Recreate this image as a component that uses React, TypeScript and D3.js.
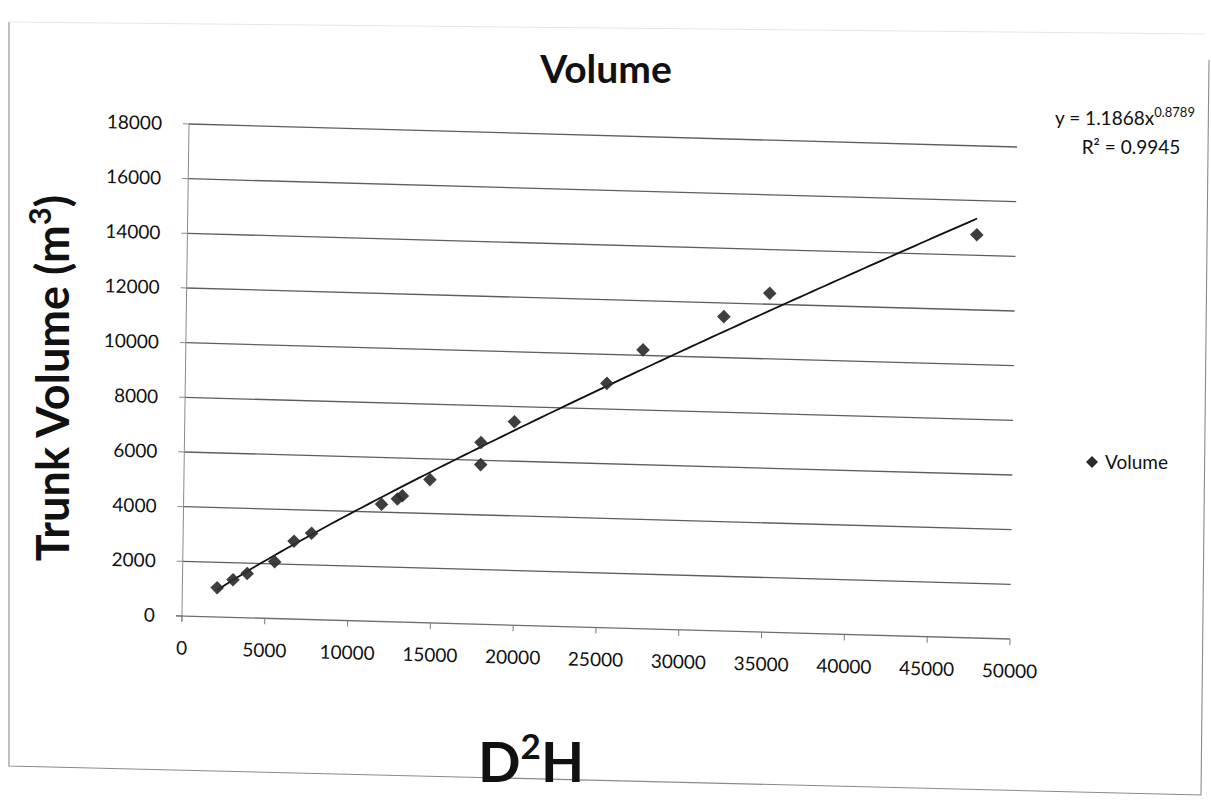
import React from "react";
import * as d3 from "d3";

// D²H (tree diameter squared × height) against measured trunk volume
const d2hValues = [2100, 3050, 3900, 5550, 6700, 7750, 11950, 12900, 13200, 14850, 17900, 17900, 19900, 25450, 27600, 32450, 35200, 47650];
const volumeValues = [1070, 1380, 1620, 2080, 2850, 3160, 4290, 4500, 4620, 5240, 5840, 6650, 7440, 8940, 10200, 11500, 12400, 14750];

const xTicks = [0, 5000, 10000, 15000, 20000, 25000, 30000, 35000, 40000, 45000, 50000];
const yTicks = [0, 2000, 4000, 6000, 8000, 10000, 12000, 14000, 16000, 18000];

// Power trendline y = a·x^b
const trendCoef = 1.1868;
const trendExp = 0.8789;
const trendR2 = 0.9945;

const seriesName = "Volume";

const W = 828;
const H = 492;
const FONT = "Lato, 'Open Sans', sans-serif";

export default function App() {
  const x = d3.scaleLinear().domain([0, 50000]).range([0, W]);
  const y = d3.scaleLinear().domain([0, 18000]).range([H, 0]);

  const xMin = d3.min(d2hValues) as number;
  const xMax = d3.max(d2hValues) as number;
  const trendXs = d3.range(0, 121).map((i) => xMin + ((xMax - xMin) * i) / 120);
  const trendPath = d3
    .line<number>()
    .x((v) => x(v))
    .y((v) => y(trendCoef * Math.pow(v, trendExp)))(trendXs) as string;

  const diamond = (r: number) => `M0,${-r}L${r},0L0,${r}L${-r},0Z`;
  const points = d2hValues.map((v, i) => ({ dx: v, vol: volumeValues[i] }));

  return (
    <svg
      width={1211}
      height={800}
      style={{ position: "absolute", left: 0, top: 0, background: "#fff" }}
      fontFamily={FONT}
    >
      {/* page frame */}
      <path d="M9,22 L9,766 C 400,776 800,785 1201,795 L1209,60" fill="none" stroke="#8a8a8a" strokeWidth={1.1} />
      <path d="M9,22 L1205,34" fill="none" stroke="#e6e6e6" strokeWidth={1} />

      {/* title */}
      <text x={606} y={83} textAnchor="middle" fontWeight={700} fontSize={39} fill="#111">
        Volume
      </text>

      {/* y axis title */}
      <text transform="translate(69,378) rotate(-90)" textAnchor="middle" fontWeight={700} fontSize={45} fill="#111">
        Trunk Volume (m<tspan dy={-18} fontSize={31}>3</tspan>
        <tspan dy={18}>)</tspan>
      </text>

      {/* x axis title */}
      <text x={531} y={782} textAnchor="middle" fontWeight={700} fontSize={56} fill="#111">
        D<tspan dy={-23} fontSize={35}>2</tspan>
        <tspan dy={23}>H</tspan>
      </text>

      {/* trendline equation */}
      <text x={1125} y={125} textAnchor="middle" fontSize={19} fill="#111">
        y = {trendCoef}x<tspan dy={-8} fontSize={13}>{trendExp}</tspan>
      </text>
      <text x={1131} y={154} textAnchor="middle" fontSize={19} fill="#111">
        R² = {trendR2}
      </text>

      {/* legend */}
      <path d={diamond(6)} transform="translate(1092,462)" fill="#2a2a2a" />
      <text x={1105} y={469} fontSize={19} fill="#111">
        {seriesName}
      </text>

      {/* plot area, slightly skewed like the scanned page */}
      <g transform="matrix(1,0.0278,-0.0143,1,189,124)">
        {yTicks.map((t) => (
          <g key={`gy${t}`}>
            {t > 0 && <line x1={0} x2={W} y1={y(t)} y2={y(t)} stroke="#5e5e5e" strokeWidth={1.3} />}
            <line x1={-6} x2={0} y1={y(t)} y2={y(t)} stroke="#8a8a8a" strokeWidth={1} />
            <text x={-27} y={y(t)} dy="0.35em" textAnchor="end" fontSize={19} fill="#111">
              {d3.format("d")(t)}
            </text>
          </g>
        ))}
        {/* axes */}
        <line x1={0} x2={0} y1={0} y2={H + 5} stroke="#8a8a8a" strokeWidth={1} />
        <line x1={-6} x2={W} y1={H} y2={H} stroke="#6e6e6e" strokeWidth={1.3} />
        {xTicks.map((t) => (
          <g key={`gx${t}`}>
            <line x1={x(t)} x2={x(t)} y1={H} y2={H + 6} stroke="#7a7a7a" strokeWidth={1} />
            <text x={x(t)} y={H + 32} dy="0.35em" textAnchor="middle" fontSize={19} fill="#111">
              {d3.format("d")(t)}
            </text>
          </g>
        ))}

        {/* trendline */}
        <path d={trendPath} fill="none" stroke="#111" strokeWidth={1.8} />

        {/* observations */}
        {points.map((p, i) => (
          <path
            key={i}
            d={diamond(6.8)}
            transform={`translate(${x(p.dx)},${y(p.vol)})`}
            fill="#2e2e2e"
            fillOpacity={0.92}
          />
        ))}
      </g>
    </svg>
  );
}
